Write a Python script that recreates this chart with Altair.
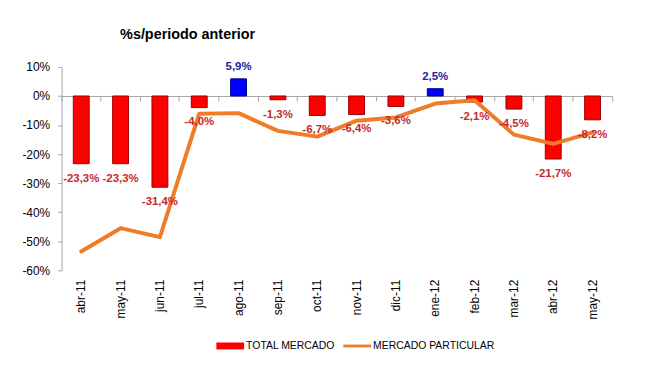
import altair as alt
import pandas as pd

months = ["abr-11", "may-11", "jun-11", "jul-11", "ago-11", "sep-11", "oct-11",
          "nov-11", "dic-11", "ene-12", "feb-12", "mar-12", "abr-12", "may-12"]
total_mercado = [-23.3, -23.3, -31.4, -4.0, 5.9, -1.3, -6.7, -6.4, -3.6, 2.5, -2.1, -4.5, -21.7, -8.2]
mercado_particular = [-53.5, -45.5, -48.6, -6.1, -5.9, -12.0, -14.0, -8.5, -7.4, -2.6, -1.5, -13.3, -16.5, -12.5]
series_names = ["TOTAL MERCADO", "MERCADO PARTICULAR"]
y_ticks = [-60, -50, -40, -30, -20, -10, 0, 10]

df = pd.DataFrame({"mes": months, "total": total_mercado, "particular": mercado_particular})
df["label"] = [f"{v:.1f}".replace(".", ",") + "%" for v in total_mercado]
legend_df = pd.DataFrame({"serie": series_names})

FONT = "Liberation Sans"
GRAY = "#a6a6a6"
PLOT_H = 205

x_scale = alt.Scale(type="band", domain=months, paddingInner=0, paddingOuter=0)
y_scale = alt.Scale(domain=[-60, 10], nice=False, zero=False)

base = alt.Chart(df)

bars = base.mark_bar(size=16, strokeWidth=1).encode(
    x=alt.X("mes:N", scale=x_scale, sort=months, title=None,
            axis=alt.Axis(orient="bottom", labelAngle=-90, domain=False, ticks=False, labelPadding=9,
                          labelFontSize=12, labelFont=FONT, labelColor="#000", grid=False)),
    y=alt.Y("total:Q", scale=y_scale, title=None,
            axis=alt.Axis(values=y_ticks, labelExpr="datum.value + '%'", grid=False,
                          domainColor=GRAY, tickColor=GRAY, tickSize=4, labelPadding=8,
                          labelFontSize=12, labelFont=FONT, labelColor="#000")),
    y2=alt.datum(0),
    fill=alt.condition("datum.total >= 0", alt.value("#0000ff"), alt.value("#ff0000")),
    stroke=alt.condition("datum.total >= 0", alt.value("#00008a"), alt.value("#9a0000")),
)

line = base.mark_line(color="#f07c28", strokeWidth=4, strokeCap="round", strokeJoin="round").encode(
    x=alt.X("mes:N", scale=x_scale, sort=months, title=None,
            axis=alt.Axis(orient="bottom", labels=False, offset=-PLOT_H * 60 / 70,
                          bandPosition=1, tickExtra=True, tickSize=5, domainColor=GRAY,
                          tickColor=GRAY, grid=False)),
    y=alt.Y("particular:Q", scale=y_scale, axis=None),
)

neg_text = base.transform_filter("datum.total < 0").mark_text(
    dy=15, baseline="middle", fontWeight="bold", fontSize=11.5, color="#c8282d", font=FONT
).encode(
    x=alt.X("mes:N", scale=x_scale, sort=months, axis=None),
    y=alt.Y("total:Q", scale=y_scale, axis=None),
    text="label:N",
)

pos_text = base.transform_filter("datum.total >= 0").mark_text(
    dy=-12, baseline="middle", fontWeight="bold", fontSize=11.5, color="#1c229c", font=FONT
).encode(
    x=alt.X("mes:N", scale=x_scale, sort=months, axis=None),
    y=alt.Y("total:Q", scale=y_scale, axis=None),
    text="label:N",
)

leg = alt.Legend(orient="none", legendX=156, legendY=267, direction="horizontal", title=None,
                 symbolSize=784, symbolOpacity=1, symbolStrokeWidth=0, labelFont=FONT,
                 labelFontSize=10.5, labelColor="#000", columnPadding=8, labelOffset=2)

legend_layer = alt.Chart(legend_df).mark_point(filled=True, opacity=0).encode(
    color=alt.Color("serie:N", scale=alt.Scale(domain=series_names, range=["#ff0000", "#f07c28"]), legend=leg),
    shape=alt.Shape("serie:N", scale=alt.Scale(domain=series_names,
                                               range=["M-1,-0.25H1V0.25H-1Z", "M-1,-0.1H1V0.1H-1Z"]), legend=leg),
)

chart = alt.layer(bars, line, neg_text, pos_text, legend_layer).resolve_axis(
    x="independent", y="independent"
).properties(
    width=555, height=PLOT_H,
    padding={"left": 54, "top": 58, "right": 30, "bottom": 88},
    autosize=alt.AutoSizeParams(type="none"),
    title=alt.TitleParams("%s/periodo anterior", anchor="start", dx=99, offset=19,
                          font=FONT, fontSize=14.5, fontWeight="bold", color="#000"),
).configure_view(stroke=None)

chart.save("out.html", embed_options={"renderer": "svg", "actions": False})
